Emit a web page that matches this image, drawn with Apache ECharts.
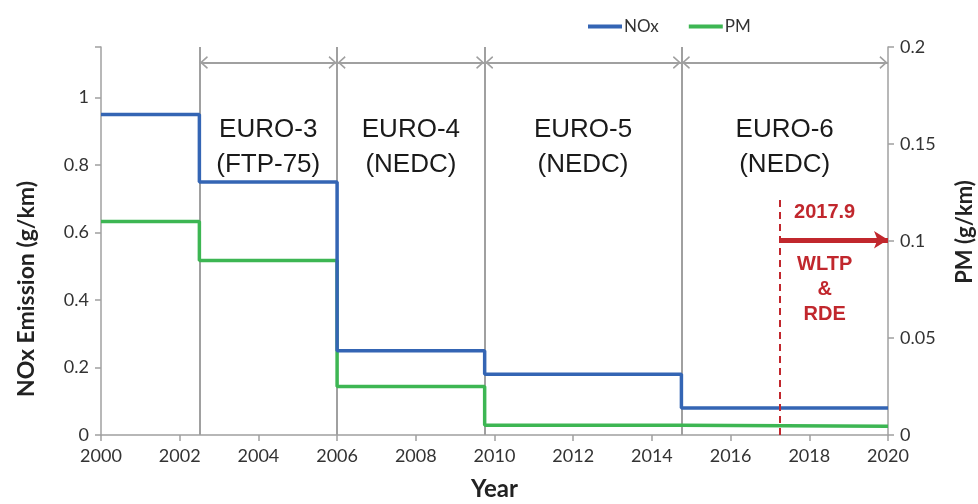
<!DOCTYPE html>
<html>
<head>
<meta charset="utf-8">
<script src="https://cdn.jsdelivr.net/npm/echarts@6/dist/echarts.min.js"></script>
<style>
html,body{margin:0;padding:0;background:#fff;}
#chart{width:978px;height:504px;}
</style>
</head>
<body>
<div id="chart"></div>
<script>
// ---- data ----
const years = [2000, 2002.5, 2006, 2009.75, 2014.75, 2020];
const noxValues = [0.95, 0.75, 0.25, 0.18, 0.08, 0.08];
const pmValues = [0.11, 0.09, 0.025, 0.005, 0.0045, 0.0045];
const stageStarts = [2002.5, 2006, 2009.75, 2014.75];
const stageEnd = 2020;
const stageLabels = ['EURO-3\n(FTP-75)', 'EURO-4\n(NEDC)', 'EURO-5\n(NEDC)', 'EURO-6\n(NEDC)'];
const wltpYear = 2017.25;
const wltpLabel = '2017.9';
const wltpText = 'WLTP\n&\nRDE';
const xTicks = [2000, 2020, 2];
const noxAxis = [0, 1.15, 0.2];
const pmAxis = [0, 0.2, 0.05];

// ---- derived ----
const noxData = years.map((y, i) => [y, noxValues[i]]);
const pmData = years.map((y, i) => [y, pmValues[i]]);
const bounds = stageStarts.concat([stageEnd]);
const arrowY = 1.104;
const textY = 0.853;
const chevron = 'path://M0,8.6 L6,0 L12,8.6 L10.7,9.6 L6,2.8 L1.3,9.6 Z';

const boundaryLines = stageStarts.map(x => ({xAxis: x}));
const spanArrows = stageStarts.map((x, i) => [
  {coord: [x, arrowY], symbol: chevron, symbolSize: [13, 8]},
  {coord: [bounds[i + 1], arrowY], symbol: chevron, symbolSize: [13, 8]}
]);
const stageTexts = stageLabels.map((t, i) => ({
  name: t,
  coord: [(stageStarts[i] + bounds[i + 1]) / 2, textY]
}));

const grey = '#a0a0a0';
const red = '#c1272d';
const fontTick = 'Lato, "Open Sans", sans-serif';

const chart = echarts.init(document.getElementById('chart'), null, {renderer: 'canvas'});
chart.setOption({
  animation: false,
  backgroundColor: '#fff',
  grid: {left: 101, right: 90, top: 47, bottom: 69, containLabel: false, outerBoundsMode: 'none'},
  legend: {
    top: 13, left: 583, itemGap: 30, itemWidth: 34, itemHeight: 4, icon: 'rect',
    textStyle: {fontFamily: fontTick, fontSize: 17, color: '#333', padding: [0, 0, 0, -3]},
    data: ['NOx', 'PM']
  },
  xAxis: {
    type: 'value', min: xTicks[0], max: xTicks[1], interval: xTicks[2],
    name: 'Year', nameLocation: 'middle', nameGap: 42,
    nameTextStyle: {fontFamily: fontTick, fontWeight: 'bold', fontSize: 24, color: '#222'},
    axisLine: {lineStyle: {color: grey, width: 1.5}},
    axisTick: {show: true, inside: false, length: 6, lineStyle: {color: grey, width: 1.5}},
    axisLabel: {fontFamily: fontTick, fontSize: 18, color: '#333', margin: 12, formatter: v => String(v)},
    splitLine: {show: false}
  },
  yAxis: [{
    type: 'value', min: noxAxis[0], max: noxAxis[1], interval: noxAxis[2], position: 'left',
    name: 'NOx Emission (g/km)', nameLocation: 'middle', nameGap: 63,
    nameTextStyle: {fontFamily: fontTick, fontWeight: 'bold', fontSize: 23, color: '#222', padding: [0, 96, 0, 0]},
    axisLine: {show: true, lineStyle: {color: grey, width: 1.5}},
    axisTick: {show: true, length: 6, lineStyle: {color: grey, width: 1.5}},
    axisLabel: {fontFamily: fontTick, fontSize: 18, color: '#333', margin: 12,
      formatter: v => (Math.abs(v * 5 - Math.round(v * 5)) < 1e-6 ? String(Math.round(v * 10) / 10) : '')},
    splitLine: {show: false}
  }, {
    type: 'value', min: pmAxis[0], max: pmAxis[1], interval: pmAxis[2], position: 'right',
    name: 'PM (g/km)', nameLocation: 'middle', nameGap: 66,
    nameTextStyle: {fontFamily: fontTick, fontWeight: 'bold', fontSize: 22, color: '#222', padding: [0, 0, 0, 18]},
    axisLine: {show: true, lineStyle: {color: grey, width: 1.5}},
    axisTick: {show: true, length: 6, lineStyle: {color: grey, width: 1.5}},
    axisLabel: {fontFamily: fontTick, fontSize: 18, color: '#333', margin: 12, formatter: v => String(Math.round(v * 100) / 100)},
    splitLine: {show: false}
  }],
  series: [{
    name: 'NOx', type: 'line', step: 'end', yAxisIndex: 0, data: noxData,
    showSymbol: false, symbol: 'none', color: '#3465b4',
    lineStyle: {width: 3.5, color: '#3465b4'}, z: 4
  }, {
    name: 'PM', type: 'line', step: 'end', yAxisIndex: 1, data: pmData,
    showSymbol: false, symbol: 'none', color: '#3db653',
    lineStyle: {width: 3.5, color: '#3db653'}, z: 3
  }, {
    name: 'stages', type: 'line', yAxisIndex: 0, data: [], silent: true, z: 1,
    markLine: {
      silent: true, animation: false, z: 1,
      label: {show: false},
      lineStyle: {color: grey, width: 2, type: 'solid'},
      symbol: ['none', 'none'],
      symbolOffset: [[0, 4.5], [0, 4.5]],
      data: boundaryLines.concat(spanArrows)
    },
    markPoint: {
      silent: true, animation: false, symbol: 'circle', symbolSize: 0,
      label: {show: true, position: 'inside', formatter: '{b}', fontFamily: 'Liberation Sans, Arial, sans-serif',
        fontSize: 26, lineHeight: 35, color: '#1a1a1a'},
      data: stageTexts
    }
  }, {
    name: 'wltp', type: 'line', yAxisIndex: 0, data: [], silent: true, z: 5,
    markLine: {
      silent: true, animation: false,
      label: {show: false},
      symbol: ['none', 'none'],
      data: [
        [{coord: [wltpYear, 0], lineStyle: {color: red, width: 2, type: [7, 5]}},
         {coord: [wltpYear, 0.70]}],
        [{coord: [wltpYear, 0.5786], symbol: 'none', lineStyle: {color: red, width: 5, type: 'solid'}},
         {coord: [stageEnd, 0.5786], symbol: 'arrow', symbolSize: [13, 14]}]
      ]
    },
    markPoint: {
      silent: true, animation: false, symbol: 'circle', symbolSize: 0,
      label: {show: true, position: 'inside', formatter: '{b}', fontFamily: 'Liberation Sans, Arial, sans-serif',
        fontWeight: 'bold', fontSize: 20, lineHeight: 25, color: red},
      data: [
        {name: wltpLabel, coord: [2018.39, 0.659]},
        {name: wltpText, coord: [2018.39, 0.43]}
      ]
    }
  }]
});
</script>
</body>
</html>
